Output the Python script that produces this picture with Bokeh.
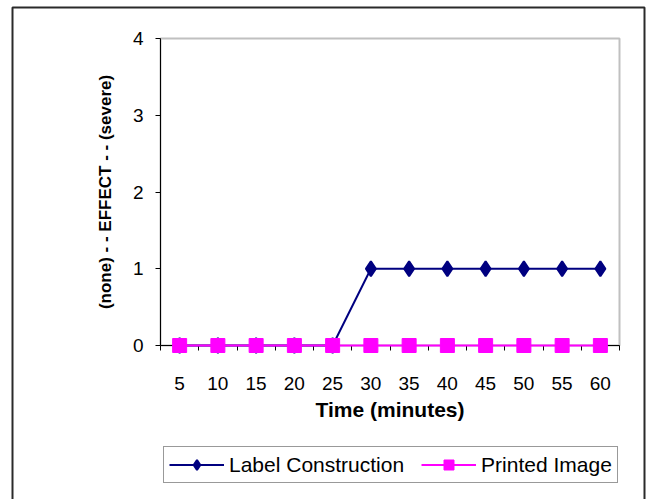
from bokeh.plotting import figure
from bokeh.models import Range1d, FixedTicker, Legend, LegendItem, BoxAnnotation, ColumnDataSource
from bokeh.embed import file_html
from bokeh.resources import INLINE

categories = ["5", "10", "15", "20", "25", "30", "35", "40", "45", "50", "55", "60"]
label_construction = [0, 0, 0, 0, 0, 1, 1, 1, 1, 1, 1, 1]
printed_image = [0, 0, 0, 0, 0, 0, 0, 0, 0, 0, 0, 0]
y_ticks = [0, 1, 2, 3, 4]

FONT = "Liberation Sans"
n = len(categories)
xs = list(range(1, n + 1))
src = ColumnDataSource(dict(x=xs, lc=label_construction, pi=printed_image))

# layout: the frame covers the whole canvas; the plot area is a sub-box of it
CW, CH = 646, 499
PL, PR, PT, PB = 160, 619, 38, 345          # plot area on page (pixels)
x0, x1 = 0.5, n + 0.5
y0, y1 = y_ticks[0], y_ticks[-1]
kx = (PR - PL) / (x1 - x0)
ky = (PB - PT) / (y1 - y0)

p = figure(width=CW, height=CH, output_backend="svg", toolbar_location=None,
           x_range=Range1d(x0 - PL / kx, x1 + (CW - PR) / kx),
           y_range=Range1d(y0 - (CH - PB) / ky, y1 + PT / ky),
           min_border=0, min_border_left=0, min_border_right=0,
           min_border_top=0, min_border_bottom=0,
           background_fill_color="white", border_fill_color="white")
p.xgrid.visible = False
p.ygrid.visible = False
p.outline_line_color = None

# outer chart border
outer = BoxAnnotation(left=12, right=644, top=7, bottom=CH + 20,
                      left_units="canvas", right_units="canvas",
                      top_units="canvas", bottom_units="canvas",
                      fill_alpha=0, line_color="#2a2a2a", line_alpha=1, line_width=2,
                      level="underlay")
p.add_layout(outer)

# plot area border (grey)
plot_box = BoxAnnotation(left=x0, right=x1, bottom=y0, top=y1,
                         fill_alpha=0, line_color="#c0c0c0", line_alpha=1, line_width=2,
                         level="underlay")
p.add_layout(plot_box)

# y axis
ya = p.yaxis[0]
ya.fixed_location = x0
ya.bounds = (y0, y1)
ya.ticker = FixedTicker(ticks=y_ticks, minor_ticks=[])
ya.major_tick_in = 0
ya.major_tick_out = 5
ya.major_tick_line_color = "black"
ya.axis_line_color = "black"
ya.major_label_text_font = FONT
ya.major_label_text_font_size = "19px"
ya.major_label_text_color = "black"
ya.major_label_standoff = 12
ya.axis_label = "(none) - - EFFECT - - (severe)"
ya.axis_label_text_font = FONT
ya.axis_label_text_font_style = "bold"
ya.axis_label_text_font_size = "17px"
ya.axis_label_text_color = "black"
ya.axis_label_standoff = 15

# x axis
xa = p.xaxis[0]
xa.fixed_location = y0
xa.bounds = (x0, x1)
xa.ticker = FixedTicker(ticks=xs, minor_ticks=[i + 0.5 for i in range(n + 1)])
xa.major_tick_in = 0
xa.major_tick_out = 0
xa.minor_tick_in = 0
xa.minor_tick_out = 5
xa.minor_tick_line_color = "black"
xa.axis_line_color = "black"
xa.major_label_overrides = {x: c for x, c in zip(xs, categories)}
xa.major_label_text_font = FONT
xa.major_label_text_font_size = "19px"
xa.major_label_text_color = "black"
xa.major_label_standoff = 26
xa.axis_label = "Time (minutes)"
xa.axis_label_text_font = FONT
xa.axis_label_text_font_style = "bold"
xa.axis_label_text_font_size = "21px"
xa.axis_label_text_color = "black"
xa.axis_label_standoff = 5

r1l = p.line("x", "lc", source=src, line_color="#000080", line_width=2, level="annotation")
r1m = p.scatter("x", "lc", source=src, marker="diamond", size=15, line_width=2,
                fill_color="#000080", line_color="#000080", level="annotation")
r2l = p.line("x", "pi", source=src, line_color="#FF00FF", line_width=2, level="annotation")
r2m = p.scatter("x", "pi", source=src, marker="square", size=14,
                fill_color="#FF00FF", line_color="#FF00FF", level="annotation")

legend = Legend(items=[LegendItem(label="Label Construction", renderers=[r1l, r1m]),
                       LegendItem(label="Printed Image", renderers=[r2l, r2m])],
                orientation="horizontal", location=(163, CH - 483),
                glyph_width=55, glyph_height=25, label_standoff=5, spacing=17, padding=5,
                margin=0, border_line_color="#333333", border_line_width=1,
                label_text_font=FONT, label_text_font_size="21px", label_text_color="black",
                background_fill_color="white", background_fill_alpha=1)
p.add_layout(legend)

open("out.html", "w").write(file_html(p, INLINE))
